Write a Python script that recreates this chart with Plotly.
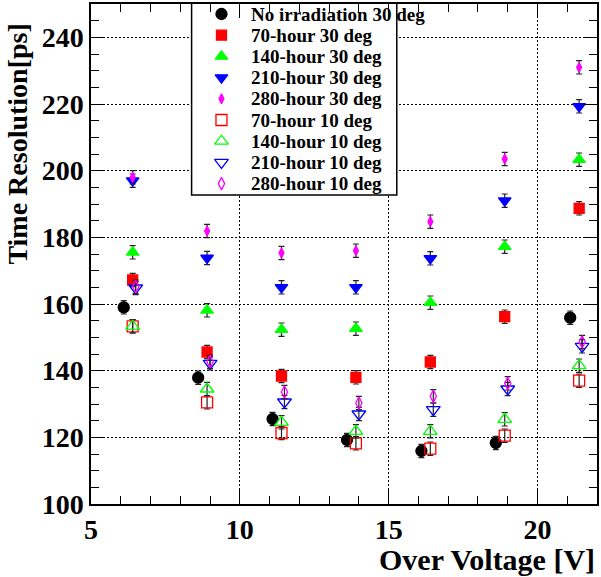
import plotly.graph_objects as go

# Over-voltage positions (V)
v_black = [6.1, 8.6, 11.1, 13.6, 16.1, 18.6, 21.1]
v_main = [6.4, 8.9, 11.4, 13.9, 16.4, 18.9, 21.4]
v_open2 = [6.5, 9.0, 11.5, 14.0, 16.5, 19.0, 21.5]

# Time resolution (ps)
no_irr_30 = [159.0, 137.9, 125.5, 119.2, 115.9, 118.3, 155.9]
h70_30 = [167.2, 145.6, 138.4, 138.0, 142.6, 156.2, 188.7]
h140_30 = [175.5, 158.1, 152.3, 152.6, 160.4, 177.2, 203.3]
h210_30 = [197.0, 173.8, 165.0, 165.0, 173.7, 191.0, 219.3]
h280_30 = [198.0, 181.9, 175.3, 176.0, 184.7, 203.5, 231.0]
h70_10 = [153.3, 130.5, 121.3, 118.2, 116.6, 120.5, 137.0]
h140_10 = [153.3, 134.5, 124.5, 121.8, 121.8, 125.4, 141.5]
h210_10 = [164.8, 142.2, 130.6, 127.0, 128.3, 134.5, 147.3]
h280_10 = [165.2, 142.7, 133.6, 130.3, 132.3, 136.2, 148.6]

err = [2.0, 2.0, 2.0, 2.0, 2.0, 2.0, 2.0]

names = ["No irradiation 30 deg", "70-hour 30 deg", "140-hour 30 deg", "210-hour 30 deg",
         "280-hour 30 deg", "70-hour 10 deg", "140-hour 10 deg", "210-hour 10 deg",
         "280-hour 10 deg"]

series = [
    (v_black, no_irr_30, "circle", "black", 11),
    (v_main, h70_30, "square", "#ff0000", 10),
    (v_main, h140_30, "triangle-up", "#00ff00", 11),
    (v_main, h210_30, "triangle-down", "#0000ff", 11),
    (v_main, h280_30, "diamond-tall", "#ff00ff", 7),
    (v_main, h70_10, "square-open", "#ff0000", 11),
    (v_main, h140_10, "triangle-up-open", "#00ff00", 12),
    (v_open2, h210_10, "triangle-down-open", "#0000ff", 12),
    (v_open2, h280_10, "diamond-tall-open", "#ff00ff", 9),
]

font_fam = "Liberation Serif, Times New Roman, serif"

X_RANGE = [5, 22]
Y_RANGE = [100, 250]
PLOT_L, PLOT_R, PLOT_T, PLOT_B = 91, 599, 4, 504

fig = go.Figure()
for name, (xs, ys, sym, col, sz) in zip(names, series):
    fig.add_trace(go.Scatter(
        x=xs, y=ys, mode="markers", name=name, showlegend=False,
        marker=dict(symbol=sym, color=col, size=sz, line=dict(color=col, width=1.3)),
        error_y=dict(type="data", array=err, color="#222222", thickness=1.2, width=3),
    ))

# Manual legend (ROOT-style box) drawn on a pixel-space overlay axis
leg_left, leg_right, leg_top, leg_bot = 192, 398, 2, 195
leg_first, leg_step = 14, 21.2
leg_marker_x, leg_text_x = 222, 250
for i, (name, (xs, ys, sym, col, sz)) in enumerate(zip(names, series)):
    yy = leg_first + i * leg_step
    fig.add_trace(go.Scatter(
        x=[leg_marker_x], y=[yy], xaxis="x2", yaxis="y2", mode="markers",
        showlegend=False, hoverinfo="skip", cliponaxis=False,
        marker=dict(symbol=sym, color=col, size=sz, line=dict(color=col, width=1.3)),
    ))


def px_to_x(px):
    return X_RANGE[0] + (px - PLOT_L) / (PLOT_R - PLOT_L) * (X_RANGE[1] - X_RANGE[0])


def py_to_y(py):
    return Y_RANGE[0] + (PLOT_B - py) / (PLOT_B - PLOT_T) * (Y_RANGE[1] - Y_RANGE[0])


fig.add_shape(type="rect", xref="x", yref="y",
              x0=px_to_x(leg_left), x1=px_to_x(leg_right), y0=py_to_y(leg_top), y1=py_to_y(leg_bot),
              line=dict(color="black", width=1.5), fillcolor="white", layer="between")

annotations = []
for i, name in enumerate(names):
    yy = leg_first + i * leg_step
    annotations.append(dict(text="<b>" + name + "</b>", xref="x2", yref="y2", x=leg_text_x, y=yy,
                            xanchor="left", yanchor="middle", showarrow=False,
                            font=dict(family=font_fam, size=19, color="black")))

axis_common = dict(
    showline=True, linecolor="black", linewidth=1.5, mirror="allticks",
    ticks="inside", ticklen=14, tickcolor="black", tickwidth=1,
    showgrid=True, gridcolor="black", griddash="2px,2px", gridwidth=1,
    zeroline=False,
    tickfont=dict(family=font_fam, size=28, color="black", weight="bold"),
)

fig.update_layout(xaxis=dict(range=X_RANGE, tickvals=[5, 10, 15, 20],
                             minor=dict(dtick=1, tick0=5, ticks="inside", ticklen=8, tickcolor="black", showgrid=False),
                             **axis_common),
                  yaxis=dict(range=Y_RANGE, tickvals=[100, 120, 140, 160, 180, 200, 220, 240],
                             minor=dict(dtick=5, tick0=100, ticks="inside", ticklen=8, tickcolor="black", showgrid=False),
                             **axis_common),
                  xaxis2=dict(overlaying="x", range=[PLOT_L, PLOT_R], visible=False),
                  yaxis2=dict(overlaying="y", range=[PLOT_B, PLOT_T], visible=False))

annotations += [
    dict(text="<b>Over Voltage [V]</b>", xref="paper", yref="paper", x=1.0, y=-0.11,
         xanchor="right", yanchor="middle", showarrow=False,
         font=dict(family=font_fam, size=30, color="black")),
    dict(text="<b>Time Resolution[ps]</b>", xref="paper", yref="paper", x=-0.147, y=0.965,
         xanchor="center", yanchor="top", textangle=-90, showarrow=False,
         font=dict(family=font_fam, size=28, color="black")),
]

fig.update_layout(
    width=601, height=577,
    margin=dict(l=PLOT_L, r=601 - PLOT_R, t=PLOT_T, b=577 - PLOT_B),
    plot_bgcolor="white", paper_bgcolor="white",
    showlegend=False,
    annotations=annotations,
)

fig.write_html("out.html")
